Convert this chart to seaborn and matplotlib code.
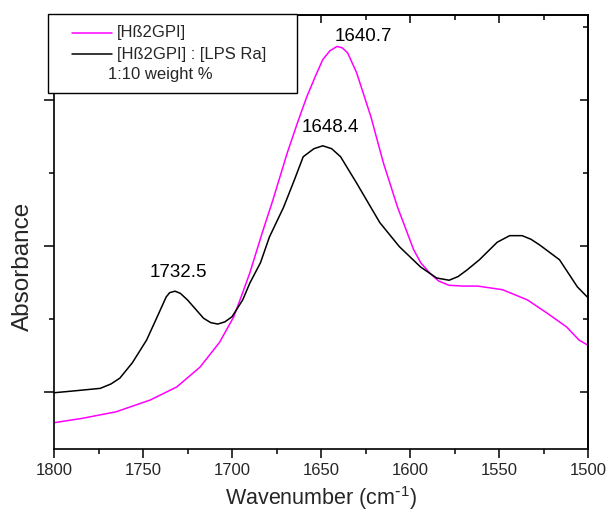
import numpy as np
import pandas as pd
import matplotlib
matplotlib.use("Agg")
import matplotlib.pyplot as plt
from matplotlib.ticker import MultipleLocator, FixedLocator
from matplotlib.lines import Line2D
from matplotlib.patches import Rectangle
import seaborn as sns

# FTIR amide band spectra (arbitrary absorbance units)
wn_free = [1800, 1784, 1765, 1746, 1731, 1718, 1707, 1699, 1694, 1690, 1683, 1677,
           1669, 1663, 1658, 1653, 1649, 1645, 1641, 1638, 1635, 1630, 1622, 1615,
           1607, 1598, 1594, 1589, 1584, 1578, 1570, 1562, 1548, 1534, 1523, 1512,
           1505, 1500]
abs_free = [0.158, 0.164, 0.173, 0.189, 0.207, 0.234, 0.268, 0.303, 0.336, 0.363, 0.418, 0.463,
            0.527, 0.570, 0.604, 0.633, 0.655, 0.667, 0.673, 0.671, 0.664, 0.637, 0.577, 0.514,
            0.453, 0.395, 0.377, 0.363, 0.352, 0.346, 0.345, 0.345, 0.340, 0.326, 0.308, 0.289,
            0.271, 0.264]

wn_lps = [1800, 1791, 1774, 1768, 1763, 1756, 1748, 1742, 1737, 1735, 1732, 1729,
          1725, 1716, 1712, 1708, 1704, 1700, 1694, 1690, 1684, 1679, 1671, 1665,
          1660, 1654, 1649, 1644, 1639, 1630, 1617, 1606, 1594, 1585, 1578, 1573,
          1568, 1561, 1551, 1544, 1537, 1532, 1527, 1516, 1506, 1500]
abs_lps = [0.199, 0.201, 0.205, 0.211, 0.219, 0.240, 0.271, 0.303, 0.330, 0.336, 0.338, 0.335,
           0.326, 0.301, 0.295, 0.293, 0.296, 0.303, 0.326, 0.349, 0.377, 0.412, 0.453, 0.490,
           0.522, 0.533, 0.537, 0.533, 0.522, 0.486, 0.432, 0.399, 0.371, 0.356, 0.353, 0.358,
           0.367, 0.381, 0.405, 0.414, 0.414, 0.409, 0.401, 0.381, 0.344, 0.329]

series_names = ["[Hß2GPI]", "[Hß2GPI] : [LPS Ra]"]
series_colors = ["#ff00ff", "#000000"]
legend_note = "1:10 weight %"

peak_labels = ["1732.5", "1648.4", "1640.7"]
peak_pos = [(1730, 0.363), (1645, 0.562), (1626, 0.686)]

df = pd.concat([
    pd.DataFrame({"Wavenumber": wn_free, "Absorbance": abs_free, "Sample": series_names[0]}),
    pd.DataFrame({"Wavenumber": wn_lps, "Absorbance": abs_lps, "Sample": series_names[1]}),
])

sns.set_theme(style="white")
plt.rcParams["font.family"] = ["Liberation Sans", "DejaVu Sans"]
plt.rcParams["mathtext.default"] = "regular"

fig = plt.figure(figsize=(6.08, 5.13), dpi=100)
ax = fig.add_axes([54 / 608, 1 - 449 / 513, 534 / 608, 434 / 513])

sns.lineplot(data=df, x="Wavenumber", y="Absorbance", hue="Sample",
             palette=dict(zip(series_names, series_colors)), estimator=None,
             linewidth=1.1, legend=False, ax=ax)

ax.set_xlim(1800, 1500)
ax.set_ylim(0.122, 0.716)

for lab, (x, y) in zip(peak_labels, peak_pos):
    ax.text(x, y, lab, ha="center", va="center", fontsize=13.5, color="black")

# axis styling
for sp in ax.spines.values():
    sp.set_color("black")
    sp.set_linewidth(1.2)

ax.xaxis.set_major_locator(MultipleLocator(50))
ax.xaxis.set_minor_locator(MultipleLocator(25))
ax.yaxis.set_major_locator(FixedLocator([0.2, 0.4, 0.6]))
ax.yaxis.set_minor_locator(FixedLocator([0.3, 0.5, 0.7]))
ax.tick_params(which="both", direction="out", color="black", width=1.1,
               top=False, right=False, bottom=True, left=True, labelsize=12)
ax.tick_params(which="major", length=6.5)
ax.tick_params(which="minor", length=3.6)
ax.tick_params(axis="y", labelleft=False)
ax.tick_params(axis="y", which="major", length=7)

secx = ax.secondary_xaxis("top")
secx.xaxis.set_major_locator(MultipleLocator(50))
secx.xaxis.set_minor_locator(MultipleLocator(25))
secx.tick_params(which="both", direction="in", color="black", width=1.1,
                 labeltop=False, labelbottom=False)
secx.tick_params(which="major", length=6)
secx.tick_params(which="minor", length=3.6)

secy = ax.secondary_yaxis("right")
secy.yaxis.set_major_locator(FixedLocator([0.2, 0.4, 0.6]))
secy.yaxis.set_minor_locator(FixedLocator([0.3, 0.5, 0.7]))
secy.tick_params(which="both", direction="in", color="black", width=1.1,
                 labelright=False, labelleft=False)
secy.tick_params(which="major", length=6)
secy.tick_params(which="minor", length=3.6)
for s in (secx, secy):
    for sp in s.spines.values():
        sp.set_color("black")
        sp.set_linewidth(1.2)

ax.set_xlabel("Wavenumber (cm$^{\\text{-}1}$)", fontsize=15.5, labelpad=4.5)
ax.set_ylabel("Absorbance", fontsize=17.5)
ax.yaxis.set_label_coords(-0.038, 0.42)

# legend box, drawn by hand in figure pixels so the padding matches
def fx(px):
    return px / 608

def fy(py):
    return 1 - py / 513

fig.patches.append(Rectangle((fx(48), fy(93)), fx(297) - fx(48), fy(14) - fy(93),
                             transform=fig.transFigure, facecolor="white",
                             edgecolor="black", linewidth=1.0, zorder=10))
for i, (name, col) in enumerate(zip(series_names, series_colors)):
    yy = fy(33 + 21 * i)
    fig.lines.append(Line2D([fx(72), fx(112)], [yy, yy], color=col, lw=1.1,
                            transform=fig.transFigure, zorder=11))
    fig.text(fx(117), yy, name, fontsize=12, va="center", ha="left", zorder=11)
fig.text(fx(108), fy(75), legend_note, fontsize=12, va="center", ha="left", zorder=11)

fig.savefig("out.png", dpi=100)
